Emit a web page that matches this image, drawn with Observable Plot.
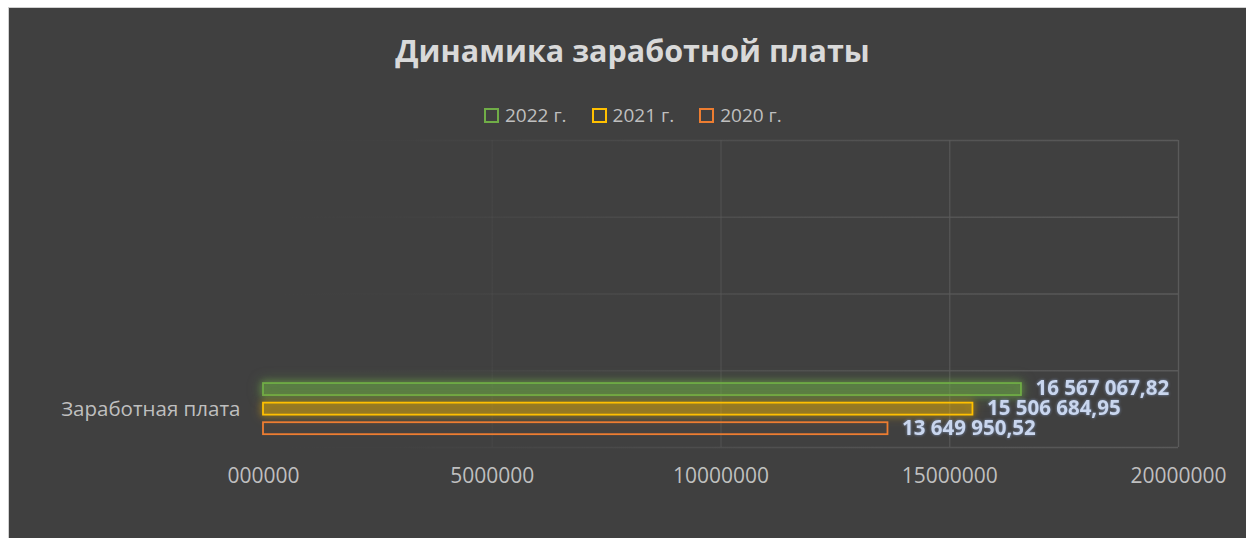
<!DOCTYPE html>
<html>
<head>
<meta charset="utf-8">
<script src="https://cdn.jsdelivr.net/npm/d3@7"></script>
<script src="https://cdn.jsdelivr.net/npm/@observablehq/plot@0.6"></script>
<style>
  html, body { margin: 0; padding: 0; background: #ffffff; }
  body { width: 1246px; height: 538px; overflow: hidden; position: relative; font-family: "Open Sans", sans-serif; }
  #panel { position: absolute; left: 8px; top: 7px; width: 1237px; height: 530px; background: #404040;
           border-left: 1px solid #d0d0d0; border-top: 1px solid #d0d0d0; }
  #title { position: absolute; left: 0; top: 21px; width: 1237px; text-align: center; padding-left: 10px; box-sizing: border-box;
           font-size: 30.5px; font-weight: bold; color: #d9d9d9; white-space: nowrap; }
  #legend { position: absolute; left: 475px; top: 94px; display: flex; align-items: center; font-size: 19px; color: #bfbfbf; white-space: nowrap; }
  .item { display: flex; align-items: center; margin-right: 25px; }
  .sw { width: 11px; height: 11px; border: 2px solid; margin-right: 6px; }
  #chart { position: absolute; left: 0; top: 122px; }
</style>
</head>
<body>
<div id="panel">
  <div id="title"></div>
  <div id="legend"></div>
  <div id="chart"></div>
</div>
<script>
const chartTitle = "Динамика заработной платы";
const categories = ["Заработная плата"];
const seriesNames = ["2022 г.", "2021 г.", "2020 г."];
const seriesValues = [16567067.82, 15506684.95, 13649950.52];
const seriesColors = ["#70ad47", "#ffc000", "#ed7d31"];
const xTickValues = [0, 5000000, 10000000, 15000000, 20000000];
const xTickLabels = ["000000", "5000000", "10000000", "15000000", "20000000"];
const bandCount = 4;

// styles (kept apart from data)
const seriesFillOpacity = [0.2, 0.22, 0.03];
const seriesGlow = [
  "drop-shadow(0 0 3px rgba(112,173,71,0.9)) drop-shadow(0 0 6px rgba(112,173,71,0.6))",
  "drop-shadow(0 0 3px rgba(255,192,0,0.6)) drop-shadow(0 0 6px rgba(255,192,0,0.35))",
  "none"
];

const ru = d3.formatLocale({decimal: ",", thousands: "\u00a0", grouping: [3], currency: ["", ""]});
const fmt = ru.format(",.2f");

document.getElementById("title").textContent = chartTitle;
const legend = document.getElementById("legend");
seriesNames.forEach((s, i) => {
  const it = document.createElement("div"); it.className = "item";
  const sw = document.createElement("div"); sw.className = "sw"; sw.style.borderColor = seriesColors[i];
  const lb = document.createElement("span"); lb.textContent = s;
  it.appendChild(sw); it.appendChild(lb); legend.appendChild(it);
});

const rows = seriesNames.map((s, i) => ({
  category: categories[0], series: s, value: seriesValues[i], idx: i,
  slot: 0.5 + (1 - i) * 0.255
}));
const catRows = categories.map((c, i) => ({category: c, pos: i + 0.5}));
const half = 0.078;

const W = 1237, H = 400, ML = 254, MR = 68, MT = 10, MB = 83;

const plot = Plot.plot({
  width: W, height: H,
  marginLeft: ML, marginRight: MR, marginTop: MT, marginBottom: MB,
  style: {background: "transparent", color: "#bfbfbf", fontSize: "21px", fontFamily: "Open Sans, sans-serif"},
  x: {domain: [0, 20000000], ticks: xTickValues, tickFormat: (d) => xTickLabels[xTickValues.indexOf(d)], tickSize: 0, tickPadding: 21, label: null},
  y: {domain: [0, bandCount], axis: null},
  color: {domain: seriesNames, range: seriesColors},
  marks: [
    Plot.ruleY(d3.range(0, bandCount + 1), {x1: 0, x2: 20000000, stroke: "url(#gridFade)", strokeWidth: 1.3}),
    Plot.ruleX(xTickValues.slice(1), {y1: 0, y2: bandCount, stroke: "url(#gridFade)", strokeWidth: 1.3}),
    Plot.rect(rows, {x1: 0, x2: "value", y1: d => d.slot - half, y2: d => d.slot + half,
      stroke: "series", fill: "series", fillOpacity: d => seriesFillOpacity[d.idx], strokeWidth: 1.8}),
    Plot.text(rows, {x: "value", y: "slot", text: d => fmt(d.value), textAnchor: "start", dx: 14,
      fill: "#c9d6ee", fontWeight: "bold", fontSize: 20.5, lineHeight: 0.9}),
    Plot.text(catRows, {x: 0, y: "pos", text: "category", textAnchor: "end", dx: -23, fill: "#bfbfbf", fontSize: 20.5})
  ]
});

const svg = d3.select(plot);
const defs = svg.insert("defs", ":first-child");
const g = defs.append("linearGradient").attr("id", "gridFade")
  .attr("gradientUnits", "userSpaceOnUse").attr("x1", ML).attr("x2", W - MR).attr("y1", 0).attr("y2", 0);
g.append("stop").attr("offset", "0").attr("stop-color", "#5a5a5a").attr("stop-opacity", 0);
g.append("stop").attr("offset", "0.15").attr("stop-color", "#5a5a5a").attr("stop-opacity", 0.05);
g.append("stop").attr("offset", "0.55").attr("stop-color", "#5a5a5a").attr("stop-opacity", 0.6);
g.append("stop").attr("offset", "1").attr("stop-color", "#5a5a5a").attr("stop-opacity", 1);

svg.selectAll('g[aria-label="rect"] rect').each(function(_, i) {
  d3.select(this).style("filter", seriesGlow[i]);
});
svg.selectAll('g[aria-label="text"]').filter((_, i) => i === 0)
  .style("filter", "drop-shadow(0 0 1.5px rgba(150,175,225,0.7))");

document.getElementById("chart").appendChild(plot);
</script>
</body>
</html>
